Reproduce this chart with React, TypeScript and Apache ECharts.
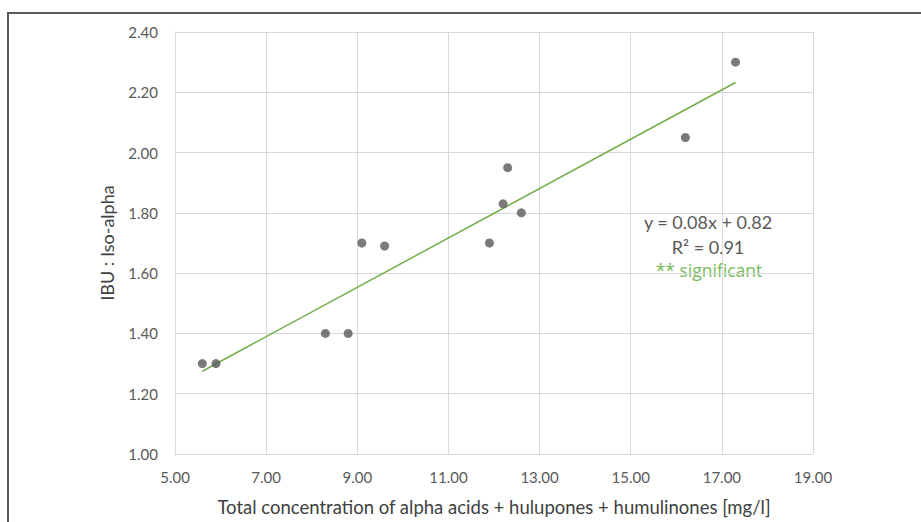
import React, { useEffect, useRef } from "react";
import * as echarts from "echarts";

const concentration = [5.6, 5.9, 8.3, 8.8, 9.1, 9.6, 11.9, 12.2, 12.3, 12.6, 16.2, 17.3];
const ibuRatio = [1.30, 1.30, 1.40, 1.40, 1.70, 1.69, 1.70, 1.83, 1.95, 1.80, 2.05, 2.30];
const equationLines = ["y = 0.08x + 0.82", "R² = 0.91"];
const significanceLabel = "** significant";
const xAxisTitle = "Total concentration of alpha acids + hulupones + humulinones [mg/l]";
const yAxisTitle = "IBU : Iso-alpha";

const FONT = "Lato, 'Open Sans', sans-serif";

function regression(xs: number[], ys: number[]) {
  const n = xs.length;
  const mx = xs.reduce((a, b) => a + b, 0) / n;
  const my = ys.reduce((a, b) => a + b, 0) / n;
  let sxy = 0, sxx = 0;
  for (let i = 0; i < n; i++) {
    sxy += (xs[i] - mx) * (ys[i] - my);
    sxx += (xs[i] - mx) ** 2;
  }
  const slope = sxy / sxx;
  return { slope, intercept: my - slope * mx };
}

export default function App() {
  const ref = useRef<HTMLDivElement>(null);
  useEffect(() => {
    if (!ref.current) return;
    const chart = echarts.init(ref.current, null, { renderer: "svg" });
    const { slope, intercept } = regression(concentration, ibuRatio);
    const xmin = Math.min(...concentration);
    const xmax = Math.max(...concentration);
    const trend = [
      [xmin, slope * xmin + intercept],
      [xmax, slope * xmax + intercept],
    ];
    chart.setOption({
      animation: false,
      backgroundColor: "#ffffff",
      grid: { left: 175, top: 32, right: 108, bottom: 68, containLabel: false },
      xAxis: {
        type: "value",
        min: 5,
        max: 19,
        interval: 2,
        name: xAxisTitle,
        nameLocation: "middle",
        nameGap: 43,
        nameTextStyle: { fontFamily: FONT, fontSize: 18.5, color: "#404040" },
        axisLine: { show: true, lineStyle: { color: "#D9D9D9", width: 1 } },
        axisTick: { show: false },
        axisLabel: {
          color: "#595959",
          fontFamily: FONT,
          fontSize: 15,
          margin: 15,
          formatter: (v: number) => v.toFixed(2),
        },
        splitLine: { show: true, lineStyle: { color: "#D9D9D9", width: 1 } },
      },
      yAxis: {
        type: "value",
        min: 1,
        max: 2.4,
        interval: 0.2,
        name: yAxisTitle,
        nameLocation: "middle",
        nameGap: 59,
        nameRotate: 90,
        nameTextStyle: { fontFamily: FONT, fontSize: 18, color: "#404040" },
        axisLine: { show: true, lineStyle: { color: "#D9D9D9", width: 1 } },
        axisTick: { show: false },
        axisLabel: {
          color: "#595959",
          fontFamily: FONT,
          fontSize: 15,
          margin: 17,
          formatter: (v: number) => v.toFixed(2),
        },
        splitLine: { show: true, lineStyle: { color: "#D9D9D9", width: 1 } },
      },
      series: [
        {
          type: "line",
          data: trend,
          symbol: "none",
          lineStyle: { color: "#70AD47", width: 1.5 },
          z: 2,
        },
        {
          type: "scatter",
          data: concentration.map((x, i) => [x, ibuRatio[i]]),
          symbol: "circle",
          symbolSize: 9,
          itemStyle: { color: "#595959" },
          z: 3,
        },
      ],
      graphic: [
        {
          type: "polyline",
          shape: { points: [[8, 1000], [8, 13], [1000, 13]] },
          style: { stroke: "#595959", lineWidth: 2, fill: null },
          silent: true,
        },
        {
          type: "text",
          x: 708,
          y: 222,
          style: {
            text: equationLines[0],
            fontFamily: FONT,
            fontSize: 18,
            fill: "#595959",
            align: "center",
            verticalAlign: "middle",
          },
        },
        {
          type: "text",
          x: 708,
          y: 247,
          style: {
            text: equationLines[1],
            fontFamily: FONT,
            fontSize: 18,
            fill: "#595959",
            align: "center",
            verticalAlign: "middle",
          },
        },
        {
          type: "text",
          x: 709,
          y: 270,
          style: {
            text: significanceLabel,
            fontFamily: "'Open Sans', 'Noto Sans', sans-serif",
            fontSize: 17.5,
            fill: "#77BB5C",
            align: "center",
            verticalAlign: "middle",
          },
        },
      ],
    });
    return () => chart.dispose();
  }, []);
  return (
    <div
      ref={ref}
      style={{ position: "absolute", left: 0, top: 0, width: 921, height: 522 }}
    />
  );
}
